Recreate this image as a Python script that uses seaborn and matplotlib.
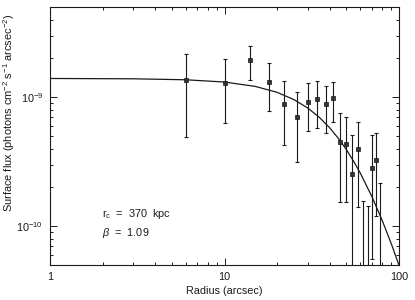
import numpy as np
import pandas as pd
import matplotlib
matplotlib.use("Agg")
import matplotlib.pyplot as plt
import seaborn as sns
from matplotlib.ticker import FixedLocator, FixedFormatter, LogLocator, NullFormatter

# ---- data ----
radius = [6, 10, 14, 18, 22, 26, 30, 34, 38, 42, 46, 50, 54, 58, 62, 66, 70, 74, 78]
flux = [1.35e-9, 1.29e-9, 1.93e-9, 1.30e-9, 8.8e-10, 7.0e-10, 9.15e-10, 9.65e-10,
        8.8e-10, 9.9e-10, 4.5e-10, 4.3e-10, 2.56e-10, 3.93e-10, 3.0e-11, 3.0e-11,
        2.8e-10, 3.25e-10, 3.0e-11]
flux_hi = [2.18e-9, 1.96e-9, 2.50e-9, 1.83e-9, 1.34e-9, 1.10e-9, 1.29e-9, 1.34e-9,
           1.23e-9, 1.32e-9, 7.6e-10, 7.0e-10, 5.07e-10, 6.43e-10, 1.57e-10, 1.44e-10,
           5.05e-10, 5.32e-10, 2.17e-10]
flux_lo = [4.87e-10, 6.29e-10, 1.35e-9, 7.75e-10, 4.25e-10, 3.13e-10, 5.45e-10, 5.78e-10,
           5.32e-10, 6.40e-10, 1.53e-10, 1.535e-10, 1e-12, 1.40e-10, 1e-12, 1e-12,
           5.6e-11, 1.195e-10, 1e-12]

model_r = [1, 3, 6, 10, 15, 20, 25, 30, 35, 40, 45, 50, 55, 60, 70, 80, 90, 100]
model_flux = [1.396e-9, 1.388e-9, 1.364e-9, 1.310e-9, 1.212e-9, 1.091e-9, 9.57e-10,
              8.24e-10, 6.96e-10, 5.80e-10, 4.78e-10, 3.91e-10, 3.18e-10, 2.58e-10,
              1.69e-10, 1.114e-10, 7.40e-11, 4.98e-11]

x_ticks = [1, 10, 100]
x_ticklabels = ["1", "10", "100"]
y_ticks = [1e-10, 1e-9]
y_ticklabels = [r"10$^{-10}$", r"10$^{-9}$"]
annot_rc = r"r$_{\rm c}$  =  370  kpc"
annot_beta = r"$\beta$  =  1.09"
x_label = "Radius (arcsec)"
y_label = r"Surface flux (photons cm$^{-2}$ s$^{-1}$ arcsec$^{-2}$)"

# ---- plotting ----
sns.set_style("ticks")
plt.rcParams["font.family"] = ["Liberation Sans", "DejaVu Sans"]
plt.rcParams["mathtext.fontset"] = "custom"
plt.rcParams["mathtext.rm"] = "Liberation Sans"
plt.rcParams["mathtext.it"] = "Liberation Sans:italic"
plt.rcParams["mathtext.bf"] = "Liberation Sans:bold"

fig = plt.figure(figsize=(4.15, 3.0), dpi=100)
ax = fig.add_axes([50 / 415, 35 / 300, 349 / 415, 258 / 300])

ink = "#1a1a1a"

df_model = pd.DataFrame({"r": model_r, "f": model_flux})
sns.lineplot(data=df_model, x="r", y="f", ax=ax, color=ink, linewidth=0.9)

f = np.array(flux)
yerr = np.vstack([f - np.array(flux_lo), np.array(flux_hi) - f])
ax.errorbar(radius, flux, yerr=yerr, fmt="none", ecolor=ink, elinewidth=0.8,
            capsize=1.6, capthick=0.8)
df_pts = pd.DataFrame({"r": radius, "f": flux})
sns.scatterplot(data=df_pts, x="r", y="f", ax=ax, marker="s", s=9,
                color="#333333", edgecolor=ink, linewidth=0.5, zorder=5)

ax.set_xscale("log")
ax.set_yscale("log")
ax.set_xlim(1, 100)
ax.set_ylim(5e-11, 5e-9)

ax.xaxis.set_major_locator(FixedLocator(x_ticks))
ax.xaxis.set_major_formatter(FixedFormatter(x_ticklabels))
ax.xaxis.set_minor_locator(LogLocator(base=10, subs=np.arange(2, 10)))
ax.xaxis.set_minor_formatter(NullFormatter())
ax.yaxis.set_major_locator(FixedLocator(y_ticks))
ax.yaxis.set_major_formatter(FixedFormatter(y_ticklabels))
ax.yaxis.set_minor_locator(LogLocator(base=10, subs=np.arange(2, 10)))
ax.yaxis.set_minor_formatter(NullFormatter())

ax.tick_params(which="both", direction="in", top=True, right=True, color=ink,
               width=0.7, labelsize=7.8, labelcolor=ink)
ax.tick_params(which="major", length=5, pad=5)
ax.tick_params(which="minor", length=2.5)
for s in ax.spines.values():
    s.set_color(ink)
    s.set_linewidth(0.8)

ax.set_xlabel(x_label, fontsize=7.8, color=ink, labelpad=3)
ax.set_ylabel("")
fig.text(9 / 415, 1 - 113 / 300, y_label, rotation=90, ha="center", va="center",
         fontsize=7.9, color=ink)

ax.text(0.149, 0.197, annot_rc, transform=ax.transAxes, fontsize=7.8, color=ink,
        va="center", ha="left")
ax.text(0.149, 0.123, annot_beta, transform=ax.transAxes, fontsize=7.8, color=ink,
        va="center", ha="left")

fig.savefig("out.png", dpi=100)
